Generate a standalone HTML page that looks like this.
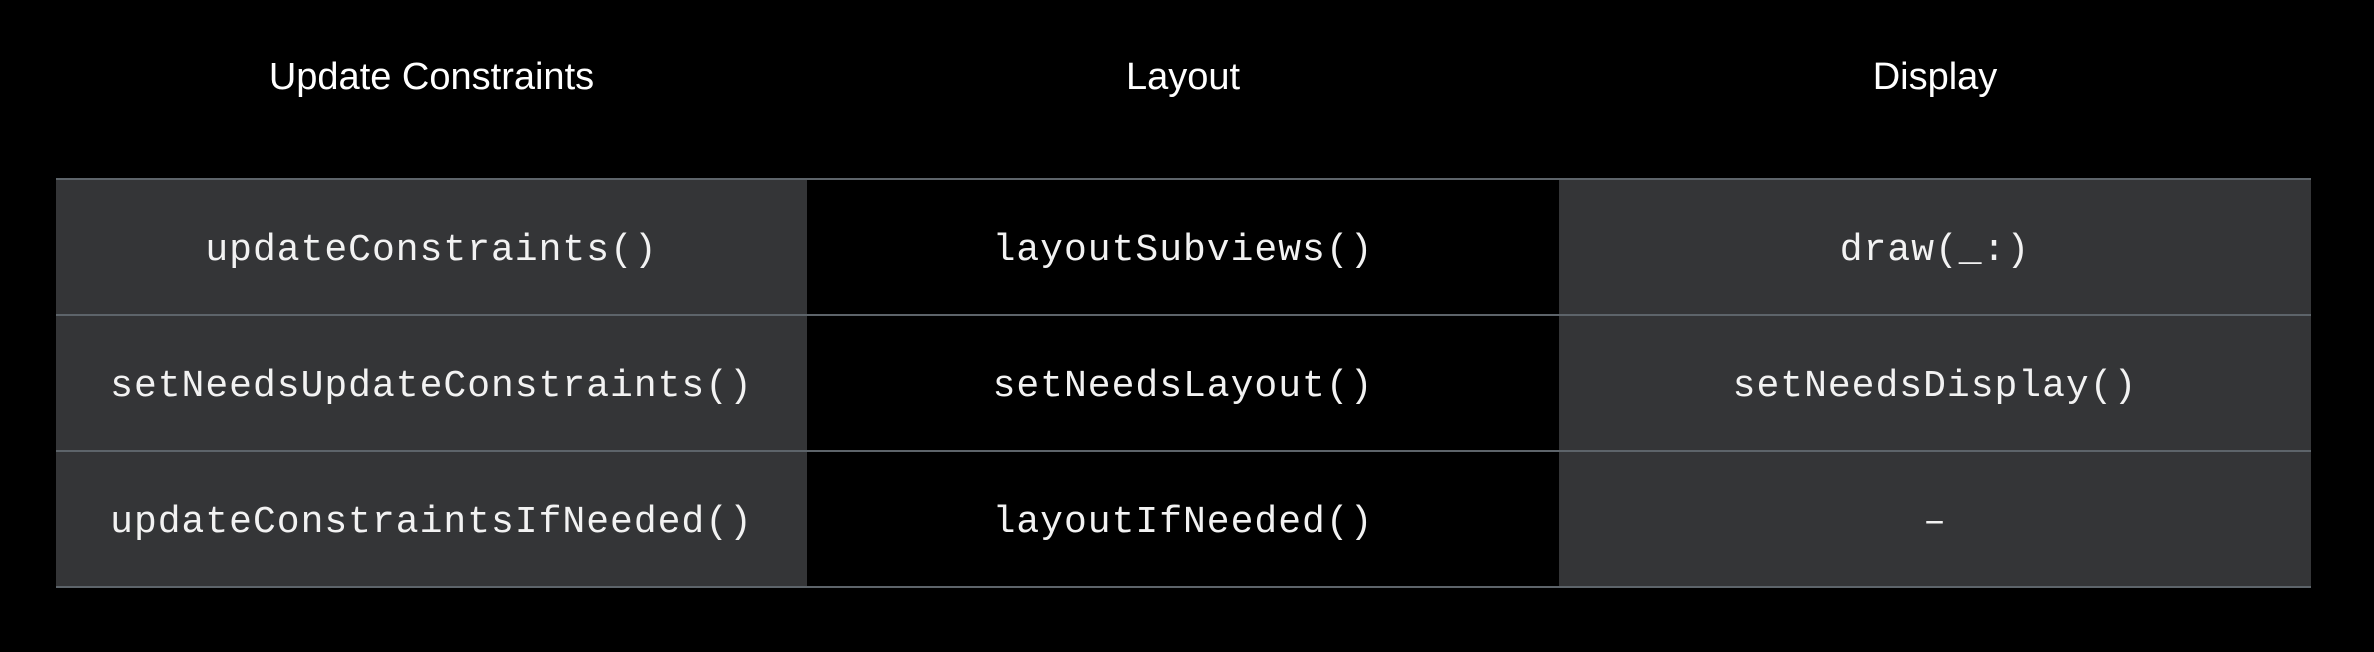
<!DOCTYPE html>
<html><head><meta charset="utf-8"><style>
html,body{margin:0;padding:0;background:#000;}
body{width:2374px;height:652px;position:relative;overflow:hidden;}
.h{position:absolute;top:52px;height:50px;line-height:50px;text-align:center;color:#fff;font-family:"Liberation Sans",sans-serif;font-size:38px;}
.c{position:absolute;height:136px;box-sizing:border-box;padding-top:6px;display:flex;align-items:center;justify-content:center;color:#f2f2f2;font-family:"Liberation Mono",monospace;font-size:38px;letter-spacing:1px;}
.g{background:#343537;}
.line{position:absolute;left:56px;width:2255px;height:2px;background:#5d646a;}
</style></head><body>
<div class="h" style="left:56px;width:751px;">Update Constraints</div>
<div class="h" style="left:807px;width:752px;">Layout</div>
<div class="h" style="left:1559px;width:752px;">Display</div>

<div class="c g" style="left:56px;width:751px;top:179px;">updateConstraints()</div>
<div class="c" style="left:807px;width:752px;top:179px;">layoutSubviews()</div>
<div class="c g" style="left:1559px;width:752px;top:179px;">draw(_:)</div>

<div class="c g" style="left:56px;width:751px;top:315px;">setNeedsUpdateConstraints()</div>
<div class="c" style="left:807px;width:752px;top:315px;">setNeedsLayout()</div>
<div class="c g" style="left:1559px;width:752px;top:315px;">setNeedsDisplay()</div>

<div class="c g" style="left:56px;width:751px;top:451px;">updateConstraintsIfNeeded()</div>
<div class="c" style="left:807px;width:752px;top:451px;">layoutIfNeeded()</div>
<div class="c g" style="left:1559px;width:752px;top:451px;">–</div>

<div class="line" style="top:178px;"></div>
<div class="line" style="top:314px;"></div>
<div class="line" style="top:450px;"></div>
<div class="line" style="top:586px;"></div>
</body></html>
